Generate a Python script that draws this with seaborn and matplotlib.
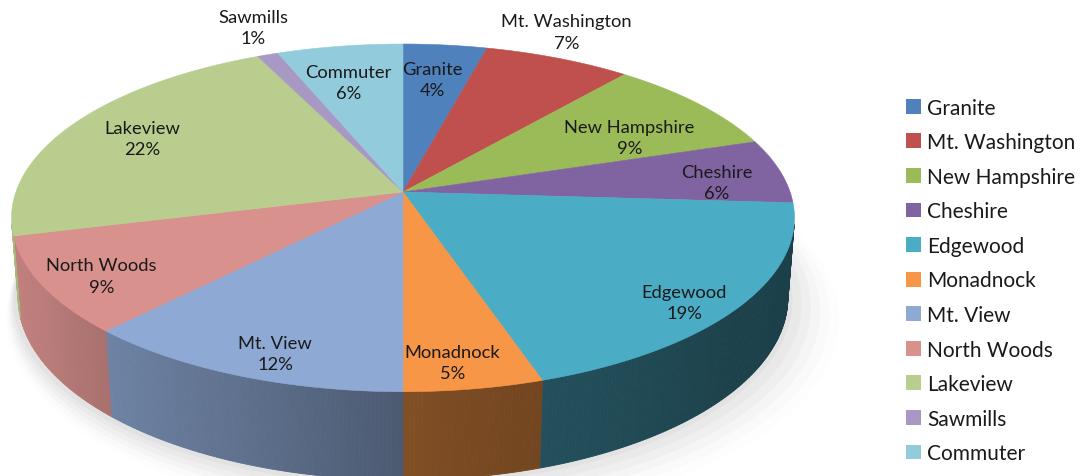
import numpy as np
import matplotlib
matplotlib.use("Agg")
import matplotlib.pyplot as plt
import seaborn as sns
from matplotlib.patches import Polygon, Patch
from matplotlib.colors import to_rgb

# ---- data -------------------------------------------------------------
sites = ["Granite", "Mt. Washington", "New Hampshire", "Cheshire", "Edgewood",
         "Monadnock", "Mt. View", "North Woods", "Lakeview", "Sawmills", "Commuter"]
shares = [4, 7, 9, 6, 19, 5, 12, 9, 22, 1, 6]

# ---- style ------------------------------------------------------------
slice_colors = ["#4F81BD", "#C0504D", "#9BBB59", "#8064A2", "#4BACC6", "#F79646",
                "#8EA9D4", "#D9918E", "#B9CE8E", "#A898C4", "#92CBDB"]
# label placement in the pie plane: radius (1 = rim) and angular nudge (deg)
label_radius = [0.74, 1.20, 0.70, 0.82, 0.89, 0.88, 0.88, 0.86, 0.78, 1.22, 0.73]
label_nudge = [0.6, 2.8, -5.5, -3.3, -4.1, -1.7, 2.4, 1.8, 0.3, -1.7, 1.5]

sns.set_theme(style="white")
plt.rcParams["font.family"] = ["Lato", "DejaVu Sans"]

W, H_PX = 1081, 477
fig = plt.figure(figsize=(W / 100, H_PX / 100), dpi=100)
ax = fig.add_axes([0, 0, 1, 1])
ax.set_xlim(0, W)
ax.set_ylim(H_PX, 0)
ax.axis("off")

# perspective camera for the tilted disc
CX, CY = 403, 193          # screen position of the pie centre
FOCAL, DIST = 2338.0, 6.04
ELEV = np.radians(26.05)
THICK = 0.23
SE, CE = np.sin(ELEV), np.cos(ELEV)


def project(u, v, z=0.0):
    yc = v * SE + z * CE
    depth = DIST + v * CE - z * SE
    return CX + FOCAL * u / depth, CY - FOCAL * yc / depth


def rim(theta_deg, z=0.0):
    t = np.radians(theta_deg)
    return project(np.cos(t), np.sin(t), z)


def shade(rgb, theta_deg):
    k = np.interp(theta_deg, [-180, -150, -110, -85, -40, 0],
                  [0.92, 0.86, 0.66, 0.50, 0.38, 0.36])
    return tuple(np.clip(np.array(rgb) * k, 0, 1))


frac = np.array(shares, dtype=float) / sum(shares)
cum = np.concatenate([[0.0], np.cumsum(frac)])
theta = 90.0 - 360.0 * cum       # clockwise from 12 o'clock

# visible side wall range (front-facing facets)
lim = np.degrees(np.arcsin(1.0 / (DIST * CE)))
wall_lo, wall_hi = -180.0 + lim, -lim

# soft shadow under the disc
for i, a in enumerate(np.linspace(0.05, 0.012, 6)):
    ts = np.linspace(-200, 20, 200)
    r = 1.0 + 0.012 * (i + 1)
    xs, ys = project(r * np.cos(np.radians(ts)) + 0.01 * i,
                     r * np.sin(np.radians(ts)) - 0.01 * i, -THICK)
    ax.add_patch(Polygon(np.column_stack([xs, ys + 2 + i]), closed=True,
                         facecolor="0.4", edgecolor="none", alpha=a, zorder=0))

# side wall
for i in range(len(shares)):
    t_hi, t_lo = theta[i], theta[i + 1]
    a, b = min(t_hi, wall_hi), max(t_lo, wall_lo)
    if a <= b:
        continue
    base = to_rgb(slice_colors[i])
    steps = np.linspace(a, b, max(2, int((a - b) / 0.5) + 1))
    for t0, t1 in zip(steps[:-1], steps[1:]):
        x0, y0 = rim(t0)
        x1, y1 = rim(t1)
        x2, y2 = rim(t1, -THICK)
        x3, y3 = rim(t0, -THICK)
        c = shade(base, 0.5 * (t0 + t1))
        ax.add_patch(Polygon([(x0, y0), (x1, y1), (x2, y2), (x3, y3)],
                             closed=True, facecolor=c, edgecolor=c,
                             linewidth=0.6, zorder=1))

# top faces
for i in range(len(shares)):
    ts = np.linspace(theta[i], theta[i + 1], 120)
    xs, ys = rim(ts)
    cx, cy = project(0.0, 0.0)
    pts = np.column_stack([np.r_[cx, xs], np.r_[cy, ys]])
    ax.add_patch(Polygon(pts, closed=True, facecolor=slice_colors[i],
                         edgecolor=slice_colors[i], linewidth=0.4, zorder=2))

# data labels
for i, name in enumerate(sites):
    tm = np.radians(0.5 * (theta[i] + theta[i + 1]) + label_nudge[i])
    r = label_radius[i]
    lx, ly = project(r * np.cos(tm), r * np.sin(tm))
    ax.text(lx, ly, f"{name}\n{shares[i]}%", ha="center", va="center",
            fontsize=13.2, color="#1a1a1a", linespacing=1.4, zorder=5)

# legend
handles = [Patch(facecolor=c, edgecolor="none") for c in slice_colors]
ax.legend(handles, sites, loc="center left", bbox_to_anchor=(0.838, 0.410),
          frameon=False, fontsize=15, handlelength=0.72, handleheight=0.72,
          handletextpad=0.3, labelspacing=0.70, borderpad=0, borderaxespad=0,
          labelcolor="#1a1a1a")

fig.savefig("out.png", dpi=100)
